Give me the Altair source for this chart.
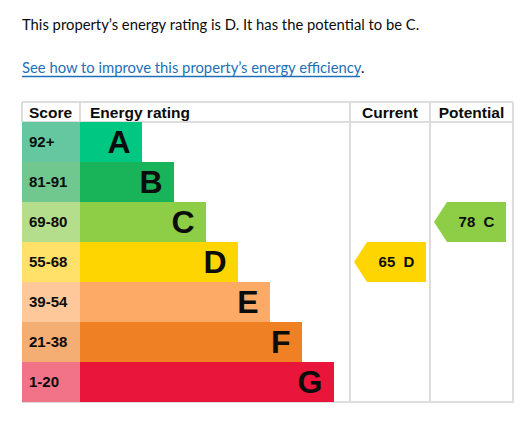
"""EPC energy rating table — Altair layered chart."""

import altair as alt
import pandas as pd

# --- data -------------------------------------------------------------------
ratings = ["A", "B", "C", "D", "E", "F", "G"]
score_bands = ["92+", "81-91", "69-80", "55-68", "39-54", "21-38", "1-20"]
band_floor = [92, 81, 69, 55, 39, 21, 1]
current_score = 65
potential_score = 78

intro = "This property\u2019s energy rating is D. It has the potential to be C."
link_text = "See how to improve this property\u2019s energy efficiency"
headers = ["Score", "Energy rating", "Current", "Potential"]

# --- styles -----------------------------------------------------------------
bar_colors = ["#00c781", "#19b459", "#8dce46", "#ffd500", "#fcaa65", "#ef8023", "#e9153b"]
score_colors = ["#64c7a0", "#70c88e", "#b4de8b", "#ffe169", "#fec89b", "#f4ad72", "#f27388"]
grid_color = "#dddddd"
ink = "#0b0c0c"
link_color = "#1d70b8"
table_font = "Liberation Sans"
body_font = "Lato"
body_size = 14.8

# --- layout (pixels inside the plot area) -----------------------------------
TABLE_W = 491
ROW_H = 40
HEAD_H = 20
SCORE_W = 58
BAR_MIN = 62
BAR_STEP = 32
COL_X = {"Current": 328, "Potential": 408}
ARROW_W = 72
ARROW_TIP = 13
H = ROW_H * len(ratings)


def band_of(score):
    for r, lo in zip(ratings, band_floor):
        if score >= lo:
            return r
    return ratings[-1]


rows = pd.DataFrame(
    {
        "rating": ratings,
        "score": score_bands,
        "idx": range(len(ratings)),
        "score_fill": score_colors,
        "bar_fill": bar_colors,
    }
)
rows["x0"] = 0
rows["x1"] = SCORE_W
rows["x2"] = SCORE_W + BAR_MIN + BAR_STEP * rows["idx"]
rows["letter_x"] = rows["x2"] - 11.5
rows["score_x"] = 7

arrows = pd.DataFrame(
    {"column": ["Current", "Potential"], "value": [current_score, potential_score]}
)
arrows["rating"] = arrows["value"].map(band_of)
arrows["fill"] = arrows["rating"].map(dict(zip(ratings, bar_colors)))
arrows["label"] = arrows["value"].astype(str) + "\u00a0\u00a0" + arrows["rating"]
arrows["ax"] = arrows["column"].map(COL_X) + 4 + ARROW_W / 2
arrows["tx"] = arrows["column"].map(COL_X) + 4 + ARROW_TIP + (ARROW_W - ARROW_TIP) / 2

head = pd.DataFrame(
    {
        "text": headers,
        "hx": [7, SCORE_W + 10, COL_X["Current"] + 40, COL_X["Potential"] + 41.5],
    }
)

xs = alt.Scale(domain=[0, TABLE_W], nice=False, zero=False)
ys = alt.Scale(type="band", domain=ratings, paddingInner=0, paddingOuter=0)
X = lambda f: alt.X(f, type="quantitative", scale=xs, axis=None)
Y = alt.Y("rating:O", scale=ys, axis=None)

# table lines
vlines = pd.DataFrame({"x": [COL_X["Current"], COL_X["Potential"], TABLE_W]})
v_rules = alt.Chart(vlines).mark_rule(color=grid_color, strokeWidth=2).encode(
    x=X("x"), y=alt.value(-HEAD_H), y2=alt.value(H)
)
hvlines = pd.DataFrame({"x": [0, SCORE_W]})
head_rules = alt.Chart(hvlines).mark_rule(color=grid_color, strokeWidth=2).encode(
    x=X("x"), y=alt.value(-HEAD_H), y2=alt.value(0)
)
hlines = pd.DataFrame({"y": [-HEAD_H, 0, H]})
h_rules = alt.Chart(hlines).mark_rule(color=grid_color, strokeWidth=2).encode(
    y=alt.Y("y:Q", scale=alt.Scale(domain=[0, H], range=[0, H], nice=False, zero=False), axis=None),
    x=alt.value(0),
    x2=alt.value(TABLE_W),
)

score_cells = alt.Chart(rows).mark_rect().encode(
    x=X("x0"), x2="x1", y=Y, color=alt.Color("score_fill:N", scale=None)
)
bars = alt.Chart(rows).mark_rect().encode(
    x=X("x1"), x2="x2", y=Y, color=alt.Color("bar_fill:N", scale=None)
)
score_text = alt.Chart(rows).mark_text(
    align="left", baseline="middle", font=table_font, fontSize=15, fontWeight="bold", color=ink
).encode(x=X("score_x"), y=Y, text="score:N")
letters = alt.Chart(rows).mark_text(
    align="right", baseline="middle", font=table_font, fontSize=32, fontWeight="bold", color=ink, dy=1
).encode(x=X("letter_x"), y=Y, text="rating:N")

tip = ARROW_TIP / (ARROW_W / 2) - 1
half = (ROW_H / 2) / (ARROW_W / 2)
arrow_path = f"M-1,0L{tip:.4f},{-half:.4f}L1,{-half:.4f}L1,{half:.4f}L{tip:.4f},{half:.4f}Z"
arrow_marks = alt.Chart(arrows).mark_point(
    shape=arrow_path, size=ARROW_W ** 2, filled=True, opacity=1, strokeWidth=0
).encode(x=X("ax"), y=Y, color=alt.Color("fill:N", scale=None))
arrow_text = alt.Chart(arrows).mark_text(
    align="center", baseline="middle", font=table_font, fontSize=15, fontWeight="bold", color=ink
).encode(x=X("tx"), y=Y, text="label:N")

head_left = alt.Chart(head.iloc[:2]).mark_text(
    align="left", baseline="middle", font=table_font, fontSize=15.5, fontWeight="bold", color=ink
).encode(x=X("hx"), y=alt.value(-HEAD_H / 2 + 1), text="text:N")
head_center = alt.Chart(head.iloc[2:]).mark_text(
    align="center", baseline="middle", font=table_font, fontSize=15.5, fontWeight="bold", color=ink
).encode(x=X("hx"), y=alt.value(-HEAD_H / 2 + 1), text="text:N")

# paragraph + link above the table
intro_text = alt.Chart(pd.DataFrame({"t": [intro]})).mark_text(
    align="left", baseline="alphabetic", font=body_font, fontSize=body_size, color=ink
).encode(x=alt.value(0), y=alt.value(-92.5), text="t:N")
link = alt.Chart(pd.DataFrame({"t": [link_text]})).mark_text(
    align="left", baseline="alphabetic", font=body_font, fontSize=body_size, color=link_color
).encode(x=alt.value(0), y=alt.value(-49), text="t:N")
underline = alt.Chart(pd.DataFrame({"t": [link_text]})).mark_rule(
    color=link_color, strokeWidth=1.5
).encode(x=alt.value(0), x2=alt.value(338), y=alt.value(-45.5))
period = alt.Chart(pd.DataFrame({"t": ["."]})).mark_text(
    align="left", baseline="alphabetic", font=body_font, fontSize=body_size, color=ink
).encode(x=alt.value(339), y=alt.value(-49), text="t:N")

chart = (
    alt.layer(
        v_rules, head_rules, h_rules, score_cells, bars, score_text, letters,
        arrow_marks, arrow_text, head_left, head_center,
        intro_text, link, underline, period,
    )
    .resolve_scale(y="independent")
    .properties(
        width=TABLE_W,
        height=H,
        autosize=alt.AutoSizeParams(type="none"),
        padding={"left": 14, "top": 114, "right": 11, "bottom": 8},
    )
    .configure_view(stroke=None)
    .configure(background="white")
)

chart.save("out.html", embed_options={"renderer": "svg", "actions": False})
